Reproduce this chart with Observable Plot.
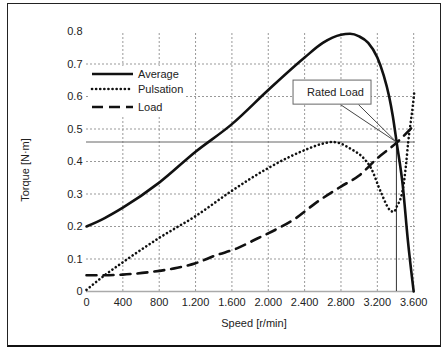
<!DOCTYPE html>
<html>
<head>
<meta charset="utf-8">
<script src="https://cdn.jsdelivr.net/npm/d3@7"></script>
<script src="https://cdn.jsdelivr.net/npm/@observablehq/plot@0.6"></script>
<style>
  html, body { margin: 0; padding: 0; background: #fff; }
  #wrap { position: relative; width: 446px; height: 349px; }
  #frame { position: absolute; left: 7px; top: 3px; width: 432px; height: 341px;
           border: 1px solid #222; border-bottom: 2px solid #111; pointer-events: none; }
</style>
</head>
<body>
<div id="wrap"><div id="frame"></div></div>
<script>
// ---- data ----
const averageSpeed  = [0, 200, 400, 800, 1200, 1600, 2000, 2400, 2600, 2800, 2900, 3000, 3100, 3200, 3270, 3330, 3370, 3413, 3480, 3534, 3600];
const averageTorque = [0.2, 0.226, 0.258, 0.335, 0.43, 0.515, 0.62, 0.72, 0.765, 0.79, 0.793, 0.785, 0.765, 0.72, 0.665, 0.6, 0.54, 0.458, 0.326, 0.163, 0];

const pulsationSpeed  = [0, 200, 400, 800, 1200, 1600, 2000, 2400, 2600, 2700, 2800, 2900, 3050, 3130, 3240, 3340, 3380, 3420, 3460, 3490, 3512, 3540, 3567, 3590, 3605];
const pulsationTorque = [0.005, 0.05, 0.09, 0.165, 0.232, 0.31, 0.38, 0.435, 0.455, 0.46, 0.455, 0.44, 0.41, 0.38, 0.305, 0.25, 0.245, 0.265, 0.29, 0.33, 0.38, 0.46, 0.52, 0.57, 0.61];

const loadSpeed  = [0, 200, 400, 700, 1000, 1200, 1430, 1650, 1880, 2080, 2300, 2520, 2800, 3000, 3200, 3413, 3600];
const loadTorque = [0.05, 0.05, 0.052, 0.06, 0.073, 0.087, 0.112, 0.132, 0.163, 0.19, 0.225, 0.272, 0.323, 0.357, 0.41, 0.458, 0.51];

const ratedSpeed = 3410;
const ratedTorque = 0.46;

const xTicks = [0, 400, 800, 1200, 1600, 2000, 2400, 2800, 3200, 3600];
const yTicks = [0, 0.1, 0.2, 0.3, 0.4, 0.5, 0.6, 0.7, 0.8];
const seriesNames = ["Average", "Pulsation", "Load"];
const xTitle = "Speed [r/min]";
const yTitle = "Torque [N·m]";
const calloutText = "Rated Load";

// ---- tables ----
const toRows = (xs, ys) => xs.map((x, i) => ({x, y: ys[i]}));
const avg = toRows(averageSpeed, averageTorque);
const pul = toRows(pulsationSpeed, pulsationTorque);
const lod = toRows(loadSpeed, loadTorque);

const xFmt = v => d3.format(",")(v).replace(/,/g, ".");
const yFmt = v => v === 0 ? "0" : d3.format(".1f")(v);

const ink = "#111";
const lw = 2.6;

const chart = Plot.plot({
  width: 446, height: 349,
  marginLeft: 86, marginRight: 31, marginTop: 31, marginBottom: 58,
  style: {fontFamily: "Liberation Sans, Arial, sans-serif", fontSize: "11px", color: "#222", background: "transparent"},
  x: {domain: [0, 3620]},
  y: {domain: [0, 0.8]},
  marks: [
    Plot.ruleX(xTicks.filter(v => v > 0), {x: d => d, y1: 0, y2: 0.8, stroke: "#999", strokeWidth: 1, strokeDasharray: "2,2"}),
    Plot.ruleY(yTicks.filter(v => v > 0 && v < 0.8), {y: d => d, x1: 0, x2: 3620, stroke: "#999", strokeWidth: 1, strokeDasharray: "2,2"}),
    Plot.ruleY([0], {x1: 0, x2: 3620, stroke: "#aaa", strokeWidth: 1.5}),
    Plot.ruleY([ratedTorque], {x1: 0, x2: 3620, stroke: "#666", strokeWidth: 1}),
    Plot.ruleX([ratedSpeed], {y1: 0, y2: ratedTorque, stroke: "#333", strokeWidth: 1}),
    Plot.axisX({ticks: xTicks, tickFormat: xFmt, tickSize: 0, tickPadding: 7, label: null}),
    Plot.axisY({ticks: yTicks, tickFormat: yFmt, tickSize: 0, tickPadding: 4, label: null}),
    Plot.line(lod, {x: "x", y: "y", curve: "monotone-x", stroke: ink, strokeWidth: lw, strokeDasharray: "10,7"}),
    Plot.line(pul, {x: "x", y: "y", curve: "monotone-x", stroke: ink, strokeWidth: lw, strokeDasharray: "0.1,4", strokeLinecap: "round"}),
    Plot.line(avg, {x: "x", y: "y", curve: "monotone-x", stroke: ink, strokeWidth: lw}),
    // callout
    Plot.link([{x1: 2795, y1: 0.575}, {x1: 2993, y1: 0.575}], {x1: "x1", y1: "y1", x2: () => ratedSpeed, y2: () => ratedTorque, stroke: "#444", strokeWidth: 1}),
    Plot.rect([{x1: 2278, x2: 3136, y1: 0.575, y2: 0.649}], {x1: "x1", x2: "x2", y1: "y1", y2: "y2", fill: "#fff", stroke: "#666", strokeWidth: 1}),
    Plot.text([calloutText], {x: 2740, y: 0.612, text: d => d, fill: "#222", fontSize: 11})
  ]
});

const svg = d3.select(chart);
// legend
const lg = svg.append("g").attr("text-anchor", "start");
lg.append("rect").attr("x", 88).attr("y", 66).attr("width", 97).attr("height", 49).attr("fill", "#fff");
const rows = [
  {y: 74, dash: null},
  {y: 89, dash: "0.1,4", cap: "round"},
  {y: 107, dash: "11,6"}
];
rows.forEach((r, i) => {
  const l = lg.append("line").attr("x1", 92).attr("x2", 133).attr("y1", r.y).attr("y2", r.y)
    .attr("stroke", ink).attr("stroke-width", lw);
  if (r.dash) l.attr("stroke-dasharray", r.dash);
  if (r.cap) l.attr("stroke-linecap", r.cap);
  lg.append("text").attr("x", 138).attr("y", r.y).attr("dy", "0.35em").attr("text-anchor", "start")
    .attr("fill", "#222").attr("font-size", 11).text(seriesNames[i]);
});
// axis titles
svg.append("text").attr("x", 254).attr("y", 323).attr("dy", "0.35em").attr("text-anchor", "middle")
  .attr("fill", "#222").attr("font-size", 11).text(xTitle);
svg.append("text").attr("transform", "translate(25,170) rotate(-90)").attr("dy", "0.35em").attr("text-anchor", "middle")
  .attr("fill", "#222").attr("font-size", 11).text(yTitle);

document.getElementById("wrap").prepend(chart);
</script>
</body>
</html>
